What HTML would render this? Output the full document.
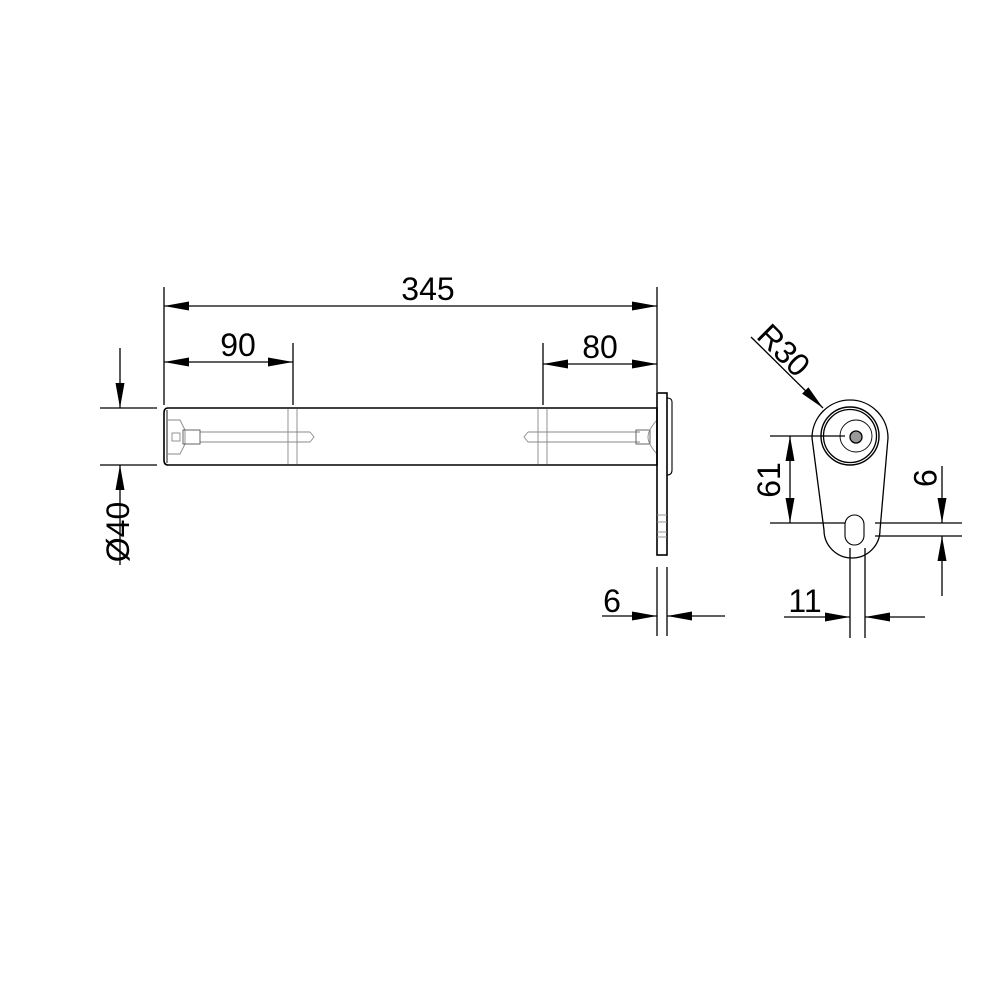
<!DOCTYPE html>
<html><head><meta charset="utf-8"><style>html,body{margin:0;background:#fff}</style></head><body>
<svg width="1000" height="1000" viewBox="0 0 1000 1000" xmlns="http://www.w3.org/2000/svg" font-family="Liberation Sans, sans-serif">
<defs>
<marker id="a" viewBox="0 0 10 10" refX="10" refY="5" markerWidth="25" markerHeight="9" markerUnits="userSpaceOnUse" orient="auto-start-reverse" preserveAspectRatio="none"><path d="M0,0L10,5L0,10z" fill="#000"/></marker>
</defs>
<g stroke="#000" stroke-width="1.3" fill="none">
<line x1="164" y1="287" x2="164" y2="405"/>
<line x1="657" y1="287" x2="657" y2="392"/>
<line x1="293" y1="343" x2="293" y2="405"/>
<line x1="543" y1="343" x2="543" y2="405"/>
<line x1="164" y1="306" x2="657" y2="306" marker-start="url(#a)" marker-end="url(#a)"/>
<line x1="164" y1="362" x2="293" y2="362" marker-start="url(#a)" marker-end="url(#a)"/>
<line x1="543" y1="364" x2="657" y2="364" marker-start="url(#a)" marker-end="url(#a)"/>
<line x1="100" y1="408" x2="157" y2="408"/>
<line x1="100" y1="465" x2="157" y2="465"/>
<line x1="120" y1="348" x2="120" y2="408" marker-end="url(#a)"/>
<line x1="120" y1="565" x2="120" y2="465" marker-end="url(#a)"/>
<path d="M168,408 H657 V465 H168 Q164,465 164,460 V413 Q164,408 168,408Z" stroke-width="1.6"/>
<line x1="167" y1="410" x2="167" y2="463" stroke-width="0.9"/>
<g stroke="#888" stroke-width="0.9">
<line x1="288" y1="409" x2="288" y2="464"/><line x1="297" y1="409" x2="297" y2="464"/>
<line x1="538" y1="409" x2="538" y2="464"/><line x1="547" y1="409" x2="547" y2="464"/>
<line x1="200" y1="432" x2="310" y2="432"/><line x1="200" y1="442" x2="310" y2="442"/>
<line x1="528" y1="432" x2="640" y2="432"/><line x1="528" y1="442" x2="640" y2="442"/>
<path d="M168,420 L180,420 L185,430 L185,444 L180,454 L168,454"/>
<rect x="183" y="430" width="17" height="14" stroke="#555"/>
<rect x="172" y="433" width="8" height="8"/>
<rect x="636" y="430" width="14" height="14" stroke="#555"/>
<path d="M657,420 Q648,430 648,437 Q648,444 657,454"/>
<path d="M310,432 L314,437 L310,442"/><path d="M528,432 L524,437 L528,442"/>
</g>
<rect x="657" y="393" width="10" height="162" stroke-width="1.6"/>
<path d="M667,398 Q672,398 672,402 V470 Q672,475 667,475" stroke-width="1.1"/>
<g stroke="#888" stroke-width="0.9"><line x1="657" y1="515" x2="667" y2="515"/><line x1="657" y1="522" x2="667" y2="522"/><line x1="657" y1="532" x2="667" y2="532"/><line x1="657" y1="537" x2="667" y2="537"/></g>
<line x1="657" y1="567" x2="657" y2="636"/>
<line x1="667" y1="567" x2="667" y2="636"/>
<line x1="602" y1="616" x2="657" y2="616" marker-end="url(#a)"/>
<line x1="725" y1="616" x2="667" y2="616" marker-end="url(#a)"/>
<path d="M812,438 A38,38 0 0 1 888,438 L880,530 A28,28 0 0 1 824,530 Z" stroke-width="1.3"/>
<circle cx="850" cy="436" r="29" stroke-width="1.4"/>
<circle cx="850" cy="436" r="26.5"/>
<circle cx="856" cy="436" r="16" stroke-width="0.9"/>
<circle cx="856" cy="437" r="6" fill="#999"/>
<rect x="845" y="515" width="19" height="30" rx="9.5" stroke-width="1.1"/>
<line x1="770" y1="436" x2="845" y2="436"/>
<line x1="770" y1="523" x2="845" y2="523"/>
<line x1="875" y1="523" x2="962" y2="523"/>
<line x1="875" y1="536" x2="962" y2="536"/>
<line x1="790" y1="436" x2="790" y2="523" marker-start="url(#a)" marker-end="url(#a)"/>
<line x1="942" y1="466" x2="942" y2="523" marker-end="url(#a)"/>
<line x1="942" y1="596" x2="942" y2="536" marker-end="url(#a)"/>
<line x1="850" y1="548" x2="850" y2="638"/>
<line x1="865" y1="548" x2="865" y2="638"/>
<line x1="784" y1="617" x2="850" y2="617" marker-end="url(#a)"/>
<line x1="925" y1="617" x2="865" y2="617" marker-end="url(#a)"/>
<line x1="751" y1="337" x2="823" y2="408" marker-end="url(#a)"/>
</g>
<g font-size="32" fill="#000" text-anchor="middle">
<text x="428" y="300">345</text>
<text x="238" y="356">90</text>
<text x="600" y="358">80</text>
<text x="612" y="612">6</text>
<text x="805" y="612">11</text>
<text transform="translate(129,532) rotate(-90)">Ø40</text>
<text transform="translate(780,480) rotate(-90)">61</text>
<text transform="translate(914,478) rotate(90)">9</text>
<text transform="translate(776,358) rotate(45)">R30</text>
</g>
</svg>
</body></html>
